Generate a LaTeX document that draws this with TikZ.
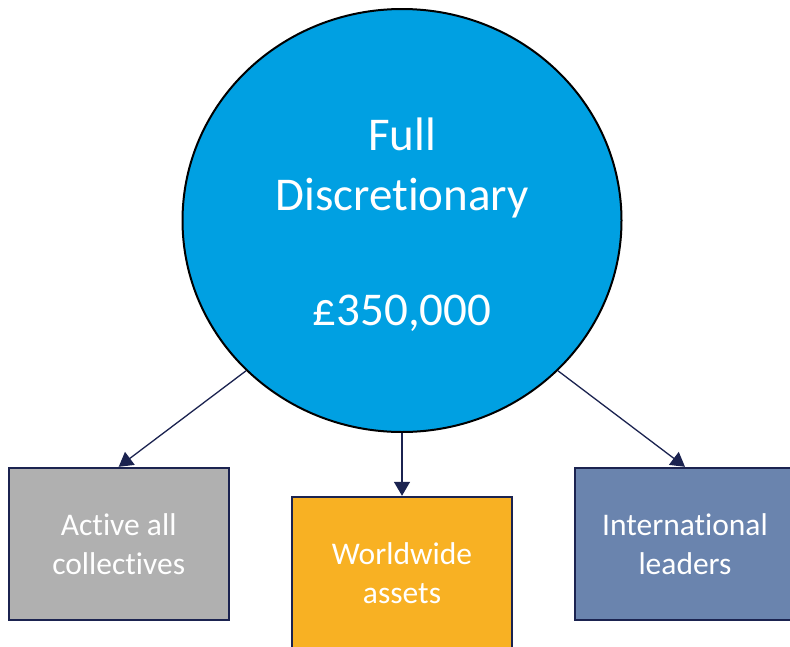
\documentclass[tikz,border=0pt]{standalone}
\usepackage{fontspec}
\setmainfont{Carlito}[Ligatures={NoCommon,NoRare}]
\usetikzlibrary{shapes.geometric,arrows.meta}
\definecolor{hubblue}{HTML}{00A0E2}
\definecolor{boxgray}{HTML}{B0B0B0}
\definecolor{boxorange}{HTML}{F8B123}
\definecolor{boxslate}{HTML}{6A84AE}
\definecolor{navy}{HTML}{1B2350}
\begin{document}
\begin{tikzpicture}[x=1pt,y=-1pt,
  hub/.style={ellipse,draw=black,line width=2pt,fill=hubblue,
    minimum width=439pt,minimum height=423pt,inner sep=0pt},
  hubtext/.style={inner sep=0pt,text=white,align=center,
    font=\fontsize{47}{60}\selectfont},
  leaf/.style={rectangle,draw=navy,line width=2.4pt,
    minimum width=220pt,minimum height=152pt,inner sep=0pt,
    text=white,align=center,font=\fontsize{31.5}{38.5}\selectfont},
  link/.style={draw=navy,line width=1.3pt,
    -{Triangle[length=14pt,width=16pt]}}]
\clip (0,0) rectangle (790,646);
\fill[white] (0,0) rectangle (790,646);

\node[hub] (hub) at (402,220.5) {};
\node[hubtext] (hubtext) at ([yshift=-4pt]hub.center)
  {Full\\Discretionary\\[55pt]\pounds350,000};

\node[leaf,fill=boxgray]   (active) at (118.7,544) {Active all\\collectives};
\node[leaf,fill=boxorange] (world)  at (402,573)   {Worldwide\\assets};
\node[leaf,fill=boxslate]  (intl)   at (685,544)   {International\\leaders};

\draw[link] (hub.south west) -- (active.north);
\draw[link] (hub.south) -- (world.north);
\draw[link] (hub.south east) -- (intl.north);
\end{tikzpicture}
\end{document}
